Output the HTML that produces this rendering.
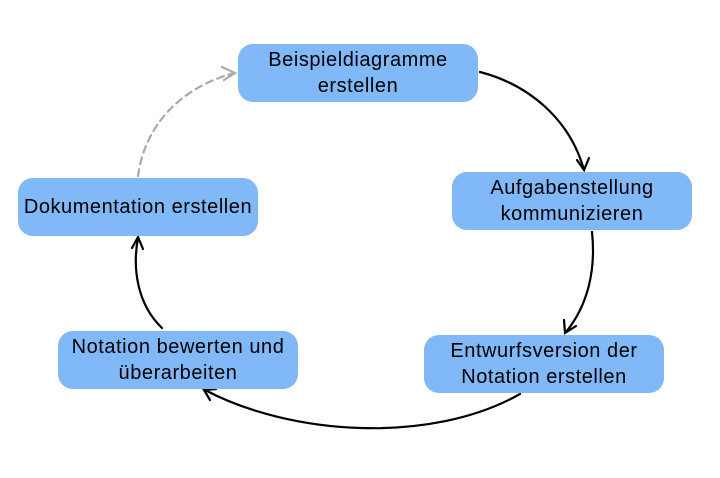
<!DOCTYPE html>
<html><head><meta charset="utf-8"><style>
body{margin:0;width:720px;height:478px;background:#fff;position:relative;overflow:hidden;font-family:"Liberation Sans",sans-serif}
.b{position:absolute;width:240px;height:58px;background:#80b8f8;border-radius:15px;display:flex;align-items:center;justify-content:center;text-align:center;font-size:20px;letter-spacing:0.55px;line-height:26px;color:#000;white-space:nowrap}
svg{position:absolute;left:0;top:0}
</style></head><body>
<svg width="720" height="478" fill="none" stroke-width="2.2" stroke-linecap="round">
<path d="M480 72 C530 85 570 120 584 170" stroke="#000"/>
<path d="M577 160 L584 170 L589 158" stroke="#000"/>
<path d="M592 232 C596 270 588 305 566 332" stroke="#000"/>
<path d="M564 320 L565 333 L576 326" stroke="#000"/>
<path d="M520 394 C430 445 290 435 205 390" stroke="#000"/>
<path d="M210 400 L204 390 L216 389" stroke="#000"/>
<path d="M162 328 C138 305 132 270 138 238" stroke="#000"/>
<path d="M132 248 L138 237 L143 249" stroke="#000"/>
<path d="M138 176 C145 125 180 88 234 73" stroke="#aaa" stroke-dasharray="7 5"/>
<path d="M222 67 L235 73 L224 80" stroke="#aaa"/>
</svg>
<div class="b" style="left:238px;top:44px">Beispieldiagramme<br>erstellen</div>
<div class="b" style="left:452px;top:172px">Aufgabenstellung<br>kommunizieren</div>
<div class="b" style="left:424px;top:335px">Entwurfsversion der<br>Notation erstellen</div>
<div class="b" style="left:58px;top:331px">Notation bewerten und<br>überarbeiten</div>
<div class="b" style="left:18px;top:178px">Dokumentation erstellen</div>
</body></html>
